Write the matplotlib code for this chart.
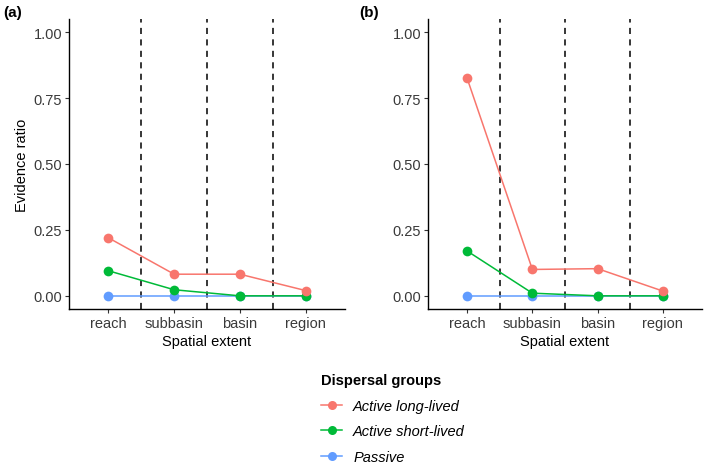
import matplotlib
matplotlib.use("Agg")
import matplotlib.pyplot as plt
from matplotlib.lines import Line2D

plt.rcParams["font.family"] = ["Liberation Sans", "DejaVu Sans"]

extents = ["reach", "subbasin", "basin", "region"]
groups = ["Active long-lived", "Active short-lived", "Passive"]
colors = ["#F8766D", "#00BA38", "#619CFF"]

# evidence ratios
panel_a = {
    "Active long-lived": [0.22, 0.082, 0.082, 0.02],
    "Active short-lived": [0.095, 0.023, 0.0, 0.0],
    "Passive": [0.0, 0.0, 0.0, 0.0],
}
panel_b = {
    "Active long-lived": [0.825, 0.10, 0.103, 0.018],
    "Active short-lived": [0.17, 0.01, 0.0, 0.0],
    "Passive": [0.0, 0.0, 0.0, 0.0],
}
yticks = [0.0, 0.25, 0.5, 0.75, 1.0]
ytick_labels = ["0.00", "0.25", "0.50", "0.75", "1.00"]

W, H = 709, 464
fig = plt.figure(figsize=(W / 100, H / 100), dpi=100)


def px_axes(x0, y0, x1, y1):
    return fig.add_axes([x0 / W, 1 - y1 / H, (x1 - x0) / W, (y1 - y0) / H])


def draw_panel(ax, data, ylabel):
    x = list(range(1, len(extents) + 1))
    for xv in [1.5, 2.5, 3.5]:
        ax.axvline(xv, color="black", lw=1.1, ls=(0, (4, 3.5)), zorder=1)
    for g, c in zip(reversed(groups), reversed(colors)):
        ax.plot(x, data[g], color=c, lw=1.1, marker="o", ms=7,
                markeredgewidth=0, zorder=3)
    ax.set_xlim(0.4, 4.6)
    ax.set_ylim(-0.05, 1.05)
    ax.set_xticks(x)
    ax.set_xticklabels(extents)
    ax.set_yticks(yticks)
    ax.set_yticklabels(ytick_labels)
    for s in ["top", "right"]:
        ax.spines[s].set_visible(False)
    for s in ["left", "bottom"]:
        ax.spines[s].set_linewidth(1.0)
    ax.tick_params(length=3, width=0.8, color="#333333", labelcolor="#3a3a3a",
                   labelsize=10.5, pad=2)
    ax.set_xlabel("Spatial extent", fontsize=10.5, labelpad=3)
    if ylabel:
        ax.set_ylabel(ylabel, fontsize=10.5, labelpad=3)


ax_a = px_axes(69, 20, 345, 310)
draw_panel(ax_a, panel_a, "Evidence ratio")
ax_b = px_axes(428, 20, 702, 310)
draw_panel(ax_b, panel_b, None)

fig.text(3 / W, 1 - 13 / H, "(a)", fontsize=11, fontweight="bold", va="center")
fig.text(359 / W, 1 - 13 / H, "(b)", fontsize=11, fontweight="bold", va="center")

handles = [Line2D([0], [0], color=c, lw=1.1, marker="o", ms=6.5, markeredgewidth=0)
           for c in colors]
leg = fig.legend(handles, groups, loc="upper left",
                 bbox_to_anchor=(308 / W, 1 - 361 / H), frameon=False,
                 title="Dispersal groups", handlelength=1.45, handletextpad=0.75,
                 labelspacing=0.8, prop={"size": 10.5, "style": "italic"},
                 title_fontproperties={"size": 10.5, "weight": "bold"},
                 alignment="left")

fig.savefig("out.png", dpi=100)
